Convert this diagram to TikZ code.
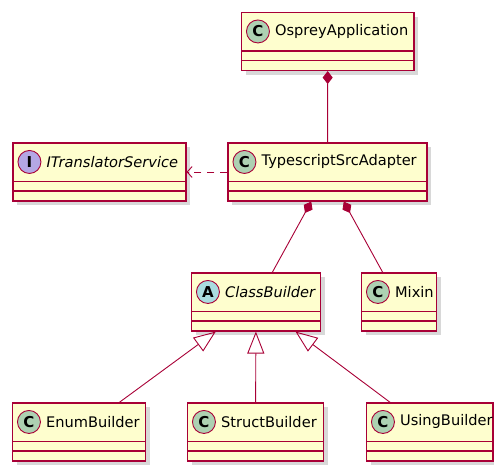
\documentclass[tikz,border=0pt]{standalone}
\usepackage{fontspec}
\setmainfont{DejaVu Sans}
\usepackage{tikz}
\usetikzlibrary{positioning, arrows.meta, shadows}
\definecolor{UMLRed}{RGB}{168,0,54}
\definecolor{UMLFill}{RGB}{254,254,206}
\definecolor{UMLGreen}{RGB}{173,209,178}
\definecolor{UMLPurple}{RGB}{180,167,229}
\definecolor{UMLCyan}{RGB}{169,220,223}

% one class box: name, x, y, width, letter, badge colour, title
\newcommand{\umlclass}[7]{%
  \node[cls, minimum width=#4] (#1) at (#2,#3) {};
  \draw[sep] ([yshift=-39pt]#1.north west) -- ([yshift=-39pt]#1.north east)
             ([yshift=-48.5pt]#1.north west) -- ([yshift=-48.5pt]#1.north east);
  \node[badge, fill=#6] (#1-b) at ([xshift=17pt,yshift=-19.5pt]#1.north west) {#5};
  \node[title, right=5pt of #1-b] (#1-t) {#7};
}

\begin{document}
\begin{tikzpicture}[x=1pt, y=-1pt,
          cls/.style={rectangle, draw=UMLRed, fill=UMLFill, line width=1.1pt,
                      minimum height=58pt, inner sep=0pt,
                      drop shadow={shadow xshift=4pt, shadow yshift=-4pt, fill=black!30}},
          sep/.style={draw=UMLRed, line width=1.1pt},
          badge/.style={circle, draw=UMLRed, line width=0.9pt, minimum size=23pt,
                        inner sep=0pt, font=\bfseries\fontsize{15}{15}\selectfont},
          title/.style={inner sep=0pt, font=\fontsize{14.6}{16}\selectfont},
          comp/.style={arrows={Diamond[length=13pt, width=10pt]-}, draw=UMLRed, line width=0.9pt},
          gen/.style={arrows={Triangle[open, length=22pt, width=17pt]-}, draw=UMLRed, line width=0.9pt},
          dep/.style={arrows={-Straight Barb[length=5pt, width=11pt]}, draw=UMLRed,
                      line width=0.9pt, dash pattern=on 7pt off 6pt}
        ]
        \useasboundingbox (0,0) rectangle (494,464);

        \umlclass{osprey}{327.75}{41.5}{172.5}{C}{UMLGreen}{OspreyApplication}
        \umlclass{adapter}{327.5}{172}{199}{C}{UMLGreen}{TypescriptSrcAdapter}
        \umlclass{itrans}{99.5}{172}{173}{I}{UMLPurple}{\itshape ITranslatorService}
        \umlclass{classb}{256}{302}{129}{A}{UMLCyan}{\itshape ClassBuilder}
        \umlclass{mixin}{399}{302}{75}{C}{UMLGreen}{Mixin}
        \umlclass{enumb}{79}{432}{133}{C}{UMLGreen}{EnumBuilder}
        \umlclass{structb}{255.5}{432}{136}{C}{UMLGreen}{StructBuilder}
        \umlclass{usingb}{429.75}{432}{126.5}{C}{UMLGreen}{UsingBuilder}

        \draw[comp] (osprey)  -- (adapter);
        \draw[dep]  (adapter) -- (itrans);
        \draw[comp] (adapter) -- (classb);
        \draw[comp] (adapter) -- (mixin);
        \draw[gen]  (classb)  -- (enumb);
        \draw[gen]  (classb)  -- (structb);
        \draw[gen]  (classb)  -- (usingb);
      \end{tikzpicture}
\end{document}
